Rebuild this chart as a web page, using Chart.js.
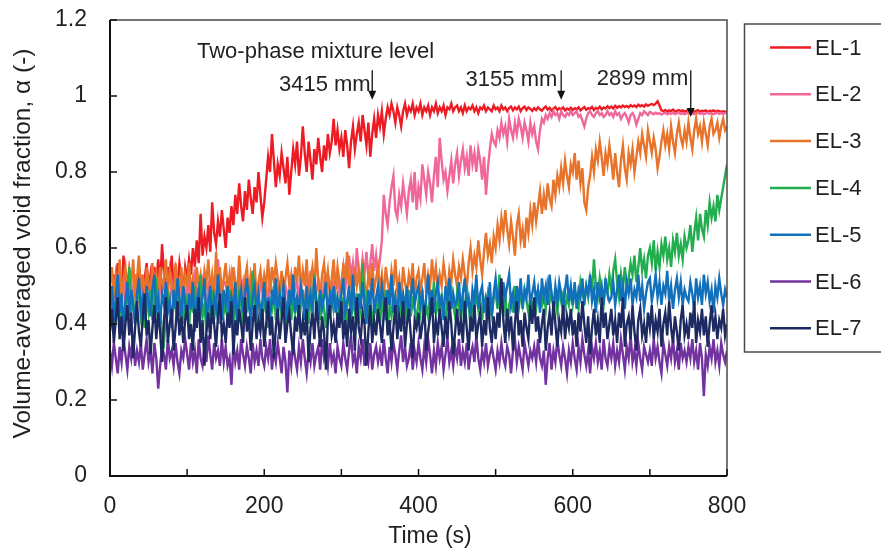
<!DOCTYPE html>
<html>
<head>
<meta charset="utf-8">
<title>Void fraction vs time</title>
<script src="https://cdn.jsdelivr.net/npm/chart.js@4.4.1/dist/chart.umd.min.js"></script>
<style>
  body { margin: 0; background: #ffffff; }
  #chartCanvas { display: block; }
</style>
</head>
<body>
<canvas id="chartCanvas" width="881" height="552"></canvas>
<script>
// traces every 2.5 s from 0 to 800 s (one line = 50 s)
const SAMPLE_STEP = 2.5;

const seriesLabels = ["EL-1", "EL-2", "EL-3", "EL-4", "EL-5", "EL-6", "EL-7"];
const seriesColors = ["#ed1c24", "#f0679a", "#e8732a", "#22ae4e", "#1170bb", "#7232a0", "#1d2a62"];

const xTickLabels = [0, 200, 400, 600, 800];
const yTickLabels = ["0", "0.2", "0.4", "0.6", "0.8", "1", "1.2"];

const el1 = [
  0.50,0.46,0.53,0.49,0.56,0.51,0.47,0.58,0.52,0.48,0.54,0.50,0.46,0.53,0.49,0.55,0.51,0.47,0.52,0.56,
  0.49,0.53,0.47,0.55,0.51,0.57,0.50,0.61,0.53,0.48,0.55,0.51,0.58,0.49,0.54,0.50,0.56,0.52,0.48,0.55,
  0.52,0.57,0.53,0.60,0.55,0.62,0.56,0.69,0.58,0.63,0.60,0.66,0.59,0.72,0.64,0.61,0.67,0.63,0.70,0.65,
  0.60,0.68,0.64,0.71,0.66,0.74,0.69,0.77,0.71,0.67,0.75,0.70,0.78,0.73,0.69,0.76,0.72,0.80,0.74,0.68,
  0.72,0.78,0.84,0.80,0.90,0.83,0.76,0.82,0.79,0.85,0.81,0.77,0.84,0.74,0.80,0.86,0.82,0.88,0.79,0.84,
  0.92,0.85,0.80,0.88,0.83,0.78,0.86,0.82,0.89,0.84,0.80,0.87,0.83,0.90,0.85,0.88,0.94,0.87,0.91,0.86,
  0.89,0.84,0.91,0.87,0.81,0.88,0.92,0.86,0.90,0.93,0.88,0.95,0.91,0.87,0.93,0.84,0.90,0.94,0.89,0.95,
  0.92,0.96,0.90,0.94,0.97,0.95,0.98,0.96,0.93,0.97,0.95,0.92,0.96,0.98,0.95,0.97,0.96,0.98,0.95,0.97,
  0.96,0.98,0.95,0.97,0.96,0.975,0.95,0.97,0.96,0.98,0.955,0.97,0.96,0.975,0.95,0.97,0.965,0.98,0.96,0.97,
  0.975,0.96,0.97,0.955,0.975,0.96,0.97,0.965,0.975,0.96,0.97,0.955,0.97,0.965,0.975,0.96,0.97,0.965,0.96,0.975,
  0.965,0.97,0.96,0.975,0.965,0.97,0.96,0.968,0.972,0.962,0.97,0.965,0.972,0.96,0.968,0.972,0.963,0.97,0.966,0.961,
  0.968,0.963,0.97,0.965,0.961,0.968,0.972,0.964,0.969,0.962,0.967,0.971,0.963,0.968,0.965,0.97,0.962,0.967,0.964,0.969,
  0.963,0.968,0.965,0.97,0.962,0.967,0.971,0.964,0.968,0.966,0.971,0.963,0.969,0.966,0.972,0.965,0.97,0.967,0.973,0.968,
  0.972,0.967,0.974,0.969,0.973,0.97,0.975,0.971,0.974,0.97,0.976,0.972,0.975,0.971,0.977,0.973,0.976,0.972,0.978,0.974,
  0.977,0.979,0.976,0.98,0.986,0.975,0.962,0.96,0.963,0.959,0.962,0.96,0.964,0.959,0.961,0.963,0.96,0.962,0.959,0.961,
  0.963,0.96,0.962,0.958,0.961,0.963,0.959,0.961,0.96,0.962,0.958,0.961,0.96,0.962,0.959,0.961,0.96,0.958,0.96,0.959,
  0.958
];

const el2 = [
  0.47,0.44,0.50,0.46,0.52,0.45,0.48,0.51,0.44,0.49,0.46,0.50,0.47,0.53,0.45,0.49,0.47,0.51,0.44,0.50,
  0.46,0.49,0.45,0.51,0.47,0.44,0.50,0.48,0.52,0.46,0.49,0.45,0.51,0.47,0.50,0.44,0.48,0.52,0.46,0.49,
  0.47,0.52,0.45,0.49,0.53,0.47,0.50,0.46,0.51,0.48,0.45,0.50,0.47,0.52,0.49,0.46,0.57,0.50,0.48,0.51,
  0.51,0.46,0.49,0.53,0.47,0.50,0.45,0.52,0.48,0.51,0.46,0.49,0.44,0.50,0.47,0.52,0.48,0.45,0.51,0.49,
  0.47,0.50,0.46,0.52,0.48,0.45,0.51,0.49,0.47,0.53,0.46,0.50,0.48,0.44,0.51,0.47,0.49,0.52,0.46,0.50,
  0.48,0.46,0.51,0.49,0.54,0.47,0.50,0.48,0.52,0.49,0.46,0.51,0.48,0.53,0.50,0.47,0.52,0.49,0.51,0.48,
  0.51,0.55,0.49,0.53,0.58,0.52,0.56,0.50,0.60,0.54,0.51,0.57,0.53,0.59,0.52,0.56,0.61,0.54,0.58,0.53,
  0.57,0.62,0.74,0.69,0.66,0.72,0.76,0.79,0.70,0.68,0.74,0.71,0.77,0.73,0.69,0.75,0.78,0.72,0.80,0.70,
  0.76,0.73,0.82,0.78,0.74,0.80,0.77,0.72,0.79,0.84,0.76,0.89,0.83,0.78,0.80,0.75,0.79,0.83,0.77,0.82,
  0.85,0.79,0.83,0.86,0.81,0.84,0.79,0.87,0.82,0.85,0.80,0.86,0.83,0.78,0.84,0.74,0.81,0.86,0.90,0.88,
  0.87,0.91,0.89,0.93,0.90,0.92,0.88,0.94,0.91,0.89,0.93,0.90,0.94,0.92,0.89,0.93,0.91,0.88,0.93,0.90,
  0.92,0.88,0.86,0.91,0.94,0.93,0.95,0.94,0.955,0.945,0.96,0.95,0.955,0.94,0.96,0.95,0.945,0.955,0.95,0.96,
  0.95,0.955,0.96,0.945,0.95,0.935,0.92,0.94,0.955,0.96,0.95,0.945,0.955,0.96,0.95,0.955,0.945,0.95,0.96,0.95,
  0.955,0.945,0.96,0.95,0.955,0.94,0.95,0.955,0.945,0.93,0.95,0.955,0.945,0.925,0.94,0.955,0.95,0.96,0.955,0.95,
  0.958,0.955,0.952,0.956,0.953,0.955,0.951,0.954,0.956,0.952,0.955,0.953,0.956,0.952,0.954,0.956,0.953,0.955,0.952,0.954,
  0.956,0.953,0.955,0.952,0.954,0.956,0.953,0.955,0.952,0.954,0.956,0.953,0.955,0.952,0.954,0.956,0.953,0.955,0.953,0.955,
  0.955
];

const el3 = [
  0.50,0.55,0.47,0.53,0.49,0.57,0.46,0.52,0.55,0.48,0.54,0.50,0.57,0.47,0.52,0.58,0.49,0.53,0.46,0.55,
  0.51,0.48,0.56,0.50,0.53,0.47,0.55,0.49,0.52,0.57,0.48,0.54,0.50,0.46,0.56,0.51,0.49,0.55,0.47,0.53,
  0.50,0.56,0.48,0.52,0.46,0.55,0.50,0.53,0.48,0.54,0.51,0.57,0.49,0.53,0.47,0.59,0.50,0.55,0.48,0.52,
  0.56,0.49,0.53,0.47,0.55,0.51,0.48,0.58,0.50,0.46,0.52,0.55,0.48,0.53,0.50,0.56,0.47,0.51,0.54,0.49,
  0.53,0.50,0.57,0.48,0.55,0.51,0.56,0.52,0.49,0.54,0.47,0.52,0.56,0.50,0.53,0.48,0.55,0.51,0.58,0.49,
  0.54,0.50,0.57,0.48,0.52,0.55,0.49,0.60,0.51,0.47,0.53,0.56,0.50,0.54,0.48,0.52,0.57,0.49,0.55,0.51,
  0.48,0.56,0.51,0.59,0.49,0.53,0.47,0.55,0.50,0.54,0.48,0.57,0.51,0.46,0.53,0.50,0.56,0.49,0.52,0.55,
  0.49,0.53,0.47,0.55,0.51,0.48,0.54,0.50,0.57,0.49,0.52,0.46,0.55,0.51,0.48,0.53,0.50,0.56,0.47,0.52,
  0.54,0.49,0.52,0.56,0.48,0.53,0.50,0.57,0.51,0.55,0.49,0.53,0.50,0.56,0.52,0.48,0.54,0.51,0.57,0.53,
  0.50,0.55,0.52,0.57,0.53,0.49,0.56,0.60,0.54,0.58,0.55,0.62,0.57,0.53,0.59,0.64,0.58,0.61,0.56,0.63,
  0.60,0.66,0.62,0.68,0.64,0.70,0.65,0.61,0.67,0.63,0.58,0.66,0.69,0.62,0.65,0.60,0.68,0.64,0.70,0.66,
  0.72,0.67,0.71,0.75,0.69,0.74,0.70,0.77,0.73,0.71,0.78,0.74,0.79,0.76,0.81,0.77,0.83,0.79,0.76,0.82,
  0.80,0.85,0.78,0.83,0.77,0.81,0.72,0.70,0.76,0.79,0.84,0.80,0.86,0.83,0.88,0.84,0.79,0.85,0.82,0.87,
  0.83,0.78,0.85,0.80,0.76,0.83,0.87,0.81,0.78,0.85,0.82,0.86,0.80,0.84,0.88,0.85,0.90,0.87,0.84,0.91,
  0.88,0.85,0.89,0.86,0.81,0.84,0.88,0.91,0.87,0.90,0.86,0.92,0.88,0.85,0.90,0.93,0.89,0.87,0.91,0.88,
  0.93,0.89,0.86,0.91,0.94,0.90,0.92,0.88,0.93,0.90,0.87,0.92,0.94,0.90,0.91,0.93,0.89,0.92,0.94,0.91,
  0.92
];

const el4 = [
  0.42,0.48,0.39,0.45,0.51,0.41,0.46,0.38,0.44,0.49,0.55,0.43,0.47,0.40,0.46,0.50,0.42,0.45,0.39,0.47,
  0.43,0.49,0.41,0.46,0.52,0.40,0.44,0.37,0.35,0.43,0.48,0.45,0.41,0.47,0.44,0.50,0.42,0.46,0.40,0.48,
  0.44,0.39,0.47,0.43,0.50,0.41,0.46,0.53,0.42,0.45,0.38,0.47,0.43,0.49,0.41,0.46,0.44,0.40,0.48,0.43,
  0.46,0.41,0.49,0.44,0.38,0.46,0.42,0.48,0.45,0.40,0.47,0.43,0.50,0.41,0.54,0.45,0.42,0.47,0.44,0.41,
  0.47,0.43,0.39,0.46,0.44,0.50,0.41,0.45,0.48,0.42,0.46,0.37,0.44,0.49,0.41,0.46,0.43,0.47,0.40,0.45,
  0.49,0.42,0.46,0.40,0.47,0.44,0.53,0.43,0.46,0.41,0.48,0.44,0.39,0.46,0.42,0.49,0.44,0.47,0.41,0.45,
  0.42,0.47,0.38,0.45,0.49,0.41,0.46,0.43,0.48,0.40,0.45,0.56,0.44,0.47,0.42,0.46,0.39,0.45,0.43,0.48,
  0.40,0.46,0.43,0.49,0.38,0.45,0.42,0.48,0.44,0.41,0.47,0.43,0.46,0.40,0.45,0.49,0.42,0.46,0.44,0.41,
  0.46,0.43,0.49,0.40,0.45,0.42,0.47,0.44,0.51,0.43,0.46,0.41,0.48,0.44,0.40,0.47,0.43,0.50,0.45,0.42,
  0.48,0.44,0.41,0.47,0.43,0.50,0.45,0.39,0.46,0.43,0.49,0.44,0.47,0.41,0.46,0.43,0.48,0.45,0.42,0.47,
  0.48,0.44,0.53,0.46,0.42,0.49,0.38,0.45,0.47,0.43,0.50,0.46,0.44,0.48,0.45,0.49,0.46,0.43,0.47,0.45,
  0.46,0.44,0.49,0.47,0.45,0.48,0.44,0.50,0.46,0.48,0.45,0.47,0.43,0.49,0.46,0.48,0.44,0.47,0.45,0.49,
  0.45,0.49,0.47,0.44,0.51,0.48,0.46,0.50,0.47,0.52,0.49,0.57,0.50,0.47,0.52,0.48,0.45,0.51,0.48,0.53,
  0.49,0.54,0.57,0.51,0.47,0.53,0.49,0.55,0.50,0.52,0.56,0.53,0.58,0.51,0.55,0.60,0.54,0.57,0.52,0.58,
  0.60,0.56,0.62,0.54,0.59,0.55,0.61,0.58,0.63,0.57,0.60,0.55,0.62,0.59,0.64,0.58,0.61,0.57,0.63,0.60,
  0.62,0.66,0.59,0.64,0.68,0.62,0.69,0.65,0.63,0.70,0.66,0.72,0.68,0.71,0.67,0.74,0.70,0.73,0.76,0.79,
  0.82
];

const el5 = [
  0.44,0.50,0.41,0.47,0.53,0.43,0.48,0.39,0.46,0.51,0.42,0.49,0.45,0.40,0.48,0.52,0.44,0.47,0.41,0.50,
  0.46,0.42,0.49,0.53,0.44,0.47,0.40,0.48,0.45,0.51,0.43,0.46,0.39,0.49,0.44,0.52,0.47,0.42,0.50,0.45,
  0.41,0.48,0.44,0.51,0.38,0.46,0.49,0.43,0.47,0.52,0.42,0.45,0.50,0.40,0.47,0.44,0.53,0.46,0.41,0.49,
  0.45,0.50,0.42,0.47,0.44,0.51,0.39,0.46,0.49,0.43,0.48,0.52,0.45,0.41,0.47,0.50,0.44,0.48,0.42,0.46,
  0.51,0.43,0.47,0.40,0.49,0.45,0.52,0.42,0.48,0.44,0.50,0.46,0.41,0.49,0.45,0.53,0.43,0.47,0.44,0.50,
  0.47,0.41,0.50,0.45,0.48,0.43,0.52,0.46,0.40,0.49,0.44,0.47,0.51,0.42,0.48,0.45,0.50,0.43,0.47,0.44,
  0.48,0.52,0.43,0.46,0.50,0.42,0.53,0.45,0.41,0.48,0.44,0.51,0.46,0.40,0.49,0.45,0.52,0.43,0.47,0.50,
  0.44,0.50,0.46,0.41,0.49,0.45,0.53,0.43,0.47,0.42,0.51,0.46,0.48,0.44,0.50,0.41,0.47,0.52,0.45,0.48,
  0.50,0.45,0.48,0.42,0.47,0.53,0.44,0.49,0.43,0.48,0.51,0.45,0.47,0.41,0.50,0.46,0.52,0.44,0.48,0.45,
  0.46,0.51,0.43,0.48,0.52,0.45,0.47,0.42,0.49,0.46,0.53,0.44,0.48,0.50,0.43,0.47,0.45,0.51,0.42,0.48,
  0.52,0.46,0.49,0.44,0.51,0.47,0.50,0.53,0.45,0.48,0.43,0.50,0.46,0.52,0.44,0.49,0.47,0.53,0.45,0.48,
  0.51,0.46,0.49,0.43,0.52,0.47,0.50,0.45,0.53,0.48,0.44,0.50,0.46,0.51,0.48,0.43,0.49,0.53,0.46,0.50,
  0.45,0.51,0.44,0.49,0.47,0.52,0.45,0.50,0.48,0.53,0.46,0.49,0.43,0.51,0.47,0.50,0.45,0.52,0.48,0.46,
  0.47,0.51,0.45,0.49,0.53,0.46,0.50,0.44,0.51,0.48,0.52,0.45,0.49,0.47,0.53,0.46,0.50,0.44,0.48,0.51,
  0.52,0.46,0.49,0.53,0.47,0.51,0.45,0.50,0.48,0.54,0.46,0.50,0.44,0.49,0.52,0.47,0.51,0.45,0.49,0.47,
  0.46,0.51,0.48,0.44,0.52,0.47,0.50,0.45,0.53,0.48,0.51,0.46,0.49,0.43,0.50,0.47,0.52,0.48,0.45,0.49,
  0.47
];

const el6 = [
  0.33,0.29,0.35,0.31,0.27,0.34,0.30,0.36,0.32,0.28,0.34,0.31,0.37,0.29,0.33,0.30,0.35,0.28,0.32,0.36,
  0.30,0.33,0.27,0.35,0.31,0.23,0.29,0.34,0.32,0.28,0.36,0.31,0.33,0.29,0.35,0.30,0.27,0.33,0.31,0.36,
  0.32,0.28,0.35,0.30,0.33,0.27,0.36,0.31,0.29,0.34,0.30,0.37,0.32,0.28,0.35,0.31,0.33,0.29,0.36,0.30,
  0.34,0.29,0.31,0.24,0.35,0.30,0.33,0.28,0.36,0.32,0.29,0.34,0.31,0.27,0.35,0.30,0.33,0.29,0.36,0.31,
  0.29,0.34,0.31,0.36,0.28,0.33,0.30,0.35,0.31,0.27,0.34,0.30,0.22,0.33,0.29,0.35,0.31,0.28,0.34,0.30,
  0.36,0.31,0.27,0.33,0.30,0.35,0.29,0.32,0.34,0.28,0.36,0.31,0.33,0.29,0.35,0.30,0.32,0.27,0.34,0.31,
  0.29,0.35,0.31,0.28,0.33,0.37,0.30,0.32,0.27,0.34,0.31,0.36,0.29,0.33,0.30,0.35,0.28,0.32,0.34,0.30,
  0.33,0.29,0.36,0.31,0.27,0.34,0.30,0.35,0.32,0.28,0.33,0.37,0.30,0.34,0.29,0.31,0.35,0.28,0.33,0.30,
  0.35,0.31,0.28,0.34,0.30,0.36,0.32,0.27,0.33,0.29,0.35,0.31,0.34,0.28,0.32,0.36,0.30,0.33,0.29,0.34,
  0.31,0.36,0.29,0.33,0.30,0.35,0.28,0.32,0.34,0.30,0.37,0.31,0.28,0.33,0.30,0.35,0.29,0.32,0.34,0.31,
  0.28,0.33,0.30,0.35,0.31,0.29,0.34,0.32,0.27,0.33,0.36,0.30,0.34,0.31,0.28,0.35,0.32,0.29,0.33,0.31,
  0.34,0.30,0.36,0.31,0.29,0.33,0.24,0.31,0.35,0.28,0.33,0.30,0.36,0.32,0.29,0.34,0.31,0.27,0.33,0.30,
  0.35,0.31,0.28,0.34,0.30,0.36,0.32,0.29,0.33,0.27,0.34,0.31,0.35,0.30,0.33,0.28,0.36,0.31,0.29,0.34,
  0.31,0.35,0.29,0.33,0.30,0.36,0.32,0.28,0.34,0.31,0.37,0.30,0.33,0.29,0.35,0.31,0.28,0.34,0.32,0.30,
  0.33,0.29,0.36,0.31,0.34,0.30,0.27,0.35,0.32,0.29,0.34,0.31,0.36,0.30,0.33,0.28,0.35,0.31,0.33,0.30,
  0.34,0.31,0.36,0.30,0.33,0.28,0.35,0.31,0.21,0.32,0.29,0.34,0.31,0.36,0.30,0.33,0.29,0.35,0.32,0.30,
  0.33
];

const el7 = [
  0.38,0.44,0.35,0.41,0.47,0.36,0.42,0.33,0.40,0.45,0.37,0.43,0.31,0.39,0.46,0.38,0.34,0.42,0.48,0.37,
  0.41,0.32,0.39,0.45,0.36,0.43,0.38,0.30,0.41,0.47,0.35,0.40,0.44,0.33,0.39,0.46,0.37,0.42,0.35,0.41,
  0.45,0.36,0.40,0.33,0.44,0.39,0.47,0.35,0.41,0.29,0.38,0.43,0.36,0.45,0.40,0.34,0.42,0.48,0.37,0.40,
  0.35,0.43,0.39,0.46,0.32,0.41,0.37,0.44,0.40,0.35,0.47,0.38,0.42,0.33,0.40,0.45,0.36,0.41,0.38,0.44,
  0.34,0.40,0.46,0.37,0.42,0.31,0.39,0.44,0.36,0.41,0.47,0.35,0.40,0.43,0.37,0.32,0.42,0.38,0.45,0.36,
  0.41,0.37,0.44,0.30,0.39,0.43,0.36,0.46,0.40,0.34,0.42,0.38,0.28,0.41,0.45,0.37,0.40,0.35,0.43,0.39,
  0.46,0.36,0.41,0.34,0.44,0.38,0.42,0.33,0.47,0.39,0.36,0.43,0.40,0.29,0.38,0.45,0.35,0.41,0.37,0.44,
  0.40,0.35,0.43,0.47,0.37,0.41,0.33,0.39,0.45,0.36,0.42,0.38,0.46,0.34,0.40,0.44,0.37,0.31,0.41,0.39,
  0.43,0.36,0.40,0.45,0.33,0.38,0.42,0.47,0.35,0.41,0.37,0.44,0.39,0.34,0.42,0.36,0.46,0.40,0.32,0.38,
  0.44,0.37,0.41,0.35,0.46,0.39,0.33,0.42,0.38,0.45,0.36,0.40,0.43,0.34,0.41,0.37,0.47,0.39,0.35,0.42,
  0.36,0.43,0.39,0.52,0.41,0.35,0.44,0.38,0.42,0.33,0.40,0.46,0.37,0.41,0.34,0.43,0.39,0.36,0.45,0.40,
  0.47,0.38,0.42,0.35,0.40,0.44,0.33,0.39,0.43,0.37,0.46,0.40,0.34,0.41,0.38,0.45,0.36,0.42,0.39,0.44,
  0.37,0.41,0.34,0.43,0.38,0.46,0.40,0.35,0.42,0.32,0.39,0.44,0.37,0.41,0.35,0.47,0.39,0.43,0.36,0.40,
  0.44,0.37,0.41,0.35,0.43,0.39,0.47,0.34,0.40,0.42,0.36,0.45,0.38,0.33,0.41,0.44,0.37,0.40,0.35,0.43,
  0.39,0.45,0.36,0.41,0.38,0.44,0.34,0.40,0.43,0.37,0.46,0.39,0.35,0.42,0.38,0.33,0.41,0.45,0.37,0.40,
  0.36,0.43,0.39,0.46,0.35,0.41,0.38,0.44,0.37,0.42,0.34,0.40,0.45,0.38,0.42,0.36,0.41,0.39,0.44,0.37,
  0.40
];

const seriesValues = [el1, el2, el3, el4, el5, el6, el7];

// mixture level markers, in data units (time s, alpha)
const levelMarks = [
  { text: "3415 mm", t: 340, top: 1.068, tip: 0.99, textT: 338, textY: 1.029 },
  { text: "3155 mm", t: 585, top: 1.068, tip: 0.99, textT: 580, textY: 1.043 },
  { text: "2899 mm", t: 753, top: 1.068, tip: 0.945, textT: 750, textY: 1.046 }
];

const FONT = '"Liberation Sans", Arial, sans-serif';
const TEXT_COLOR = "#231f20";

seriesValues.forEach(function(v, i) { console.log(seriesLabels[i], "points:", v.length); });

// build datasets, later series painted on top (like the original)
const datasets = seriesValues.map(function(vals, i) {
  return {
    label: seriesLabels[i],
    data: vals.map(function(v, k) { return { x: k * SAMPLE_STEP, y: v }; }),
    borderColor: seriesColors[i],
    backgroundColor: seriesColors[i],
    borderWidth: 2.4,
    pointRadius: 0,
    tension: 0,
    fill: false,
    order: seriesValues.length - i
  };
});

// frame, inner ticks, titles, annotations and legend box
const decorPlugin = {
  id: "decor",
  afterDraw: function(chart) {
    const ctx = chart.ctx;
    const area = chart.chartArea;
    const xs = chart.scales.x;
    const ys = chart.scales.y;
    ctx.save();

    // top / right frame
    ctx.strokeStyle = "#4a4a4a";
    ctx.lineWidth = 1.5;
    ctx.beginPath();
    ctx.moveTo(area.left, area.top);
    ctx.lineTo(area.right, area.top);
    ctx.lineTo(area.right, area.bottom);
    ctx.stroke();

    // axes
    ctx.strokeStyle = "#111111";
    ctx.lineWidth = 2;
    ctx.beginPath();
    ctx.moveTo(area.left, area.top);
    ctx.lineTo(area.left, area.bottom);
    ctx.lineTo(area.right, area.bottom);
    ctx.stroke();

    // inner tick marks
    ctx.lineWidth = 1.5;
    ctx.beginPath();
    xs.ticks.forEach(function(tk) {
      const px = xs.getPixelForValue(tk.value);
      ctx.moveTo(px, area.bottom);
      ctx.lineTo(px, area.bottom - 7);
    });
    ys.ticks.forEach(function(tk) {
      const py = ys.getPixelForValue(tk.value);
      ctx.moveTo(area.left, py);
      ctx.lineTo(area.left + 7, py);
    });
    ctx.stroke();

    // axis titles
    ctx.fillStyle = TEXT_COLOR;
    ctx.font = "23px " + FONT;
    ctx.textAlign = "center";
    ctx.textBaseline = "middle";
    ctx.fillText("Time (s)", 430, 537);

    ctx.save();
    ctx.translate(23, 243.5);
    ctx.rotate(-Math.PI / 2);
    ctx.font = "24.5px " + FONT;
    ctx.fillText("Volume-averaged void fraction, \u03b1 (-)", 0, 0);
    ctx.restore();

    // annotation text + arrows
    ctx.font = "22px " + FONT;
    ctx.textAlign = "left";
    ctx.fillText("Two-phase mixture level", 197, 52);

    ctx.textAlign = "right";
    levelMarks.forEach(function(m) {
      const px = xs.getPixelForValue(m.t);
      const pTop = ys.getPixelForValue(m.top);
      const pTip = ys.getPixelForValue(m.tip);
      ctx.fillText(m.text, xs.getPixelForValue(m.textT), ys.getPixelForValue(m.textY));
      ctx.strokeStyle = "#111111";
      ctx.lineWidth = 1.3;
      ctx.beginPath();
      ctx.moveTo(px, pTop);
      ctx.lineTo(px, pTip - 6);
      ctx.stroke();
      ctx.fillStyle = "#111111";
      ctx.beginPath();
      ctx.moveTo(px - 4, pTip - 9);
      ctx.lineTo(px + 4, pTip - 9);
      ctx.lineTo(px, pTip);
      ctx.closePath();
      ctx.fill();
      ctx.fillStyle = TEXT_COLOR;
    });

    // legend box
    ctx.strokeStyle = "#4a4a4a";
    ctx.lineWidth = 1.5;
    ctx.strokeRect(744.5, 24, 160, 328);
    ctx.font = "22px " + FONT;
    ctx.textAlign = "left";
    seriesLabels.forEach(function(lbl, i) {
      const ly = 47.5 + i * 46.8;
      ctx.strokeStyle = seriesColors[i];
      ctx.lineWidth = 2.5;
      ctx.beginPath();
      ctx.moveTo(770, ly);
      ctx.lineTo(811, ly);
      ctx.stroke();
      ctx.fillStyle = TEXT_COLOR;
      ctx.fillText(lbl, 815, ly + 1);
    });

    ctx.restore();
  }
};

const ctx = document.getElementById("chartCanvas").getContext("2d");
const voidChart = new Chart(ctx, {
  type: "line",
  data: { datasets: datasets },
  options: {
    responsive: false,
    animation: false,
    devicePixelRatio: 1,
    layout: { padding: { top: 20, right: 154, left: 0, bottom: 0 } },
    plugins: {
      legend: { display: false },
      tooltip: { enabled: false }
    },
    scales: {
      x: {
        type: "linear",
        min: 0,
        max: 800,
        grid: { display: false, drawTicks: false },
        border: { display: false },
        ticks: {
          stepSize: 100,
          padding: 17,
          color: TEXT_COLOR,
          font: { family: FONT, size: 23 },
          maxRotation: 0,
          callback: function(v) { return xTickLabels.indexOf(v) >= 0 ? String(v) : ""; }
        },
        afterFit: function(scale) { scale.height = 76; }
      },
      y: {
        min: 0,
        max: 1.2,
        grid: { display: false, drawTicks: false },
        border: { display: false },
        ticks: {
          stepSize: 0.2,
          padding: 23,
          color: TEXT_COLOR,
          font: { family: FONT, size: 23 },
          callback: function(v, idx) { return yTickLabels[idx]; }
        },
        afterFit: function(scale) {
          scale.width = 110;
          // no extra room above/below for the end labels, the frame sets the top
          scale.paddingTop = 0;
          scale.paddingBottom = 0;
        }
      }
    }
  },
  plugins: [decorPlugin]
});
console.log("chart drawn", voidChart.chartArea);
</script>
</body>
</html>
